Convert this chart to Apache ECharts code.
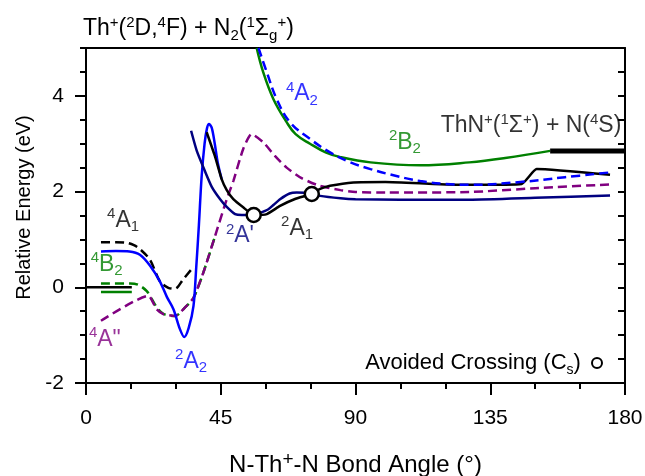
<!DOCTYPE html>
<html>
<head>
<meta charset="utf-8">
<script src="https://cdn.jsdelivr.net/npm/echarts@6/dist/echarts.min.js"></script>
<style>
  html, body { margin: 0; padding: 0; background: #fff; }
  #chart { width: 645px; height: 476px; }
</style>
</head>
<body>
<div id="chart"></div>
<script>
(function () {
    var FONT = 'Liberation Sans';

    // curves: [angle (deg), relative energy (eV)]
    var zeroLine = [[0, 0], [15.3, 0]];
    var b2Short = [[5, -0.1], [15.3, -0.1]];
    var a1Quartet = [[5, 0.94], [10, 0.94], [13.6, 0.93], [16, 0.88], [18, 0.8], [21.4, 0.57], [24.7, 0.12],
        [27.5, -0.01], [29.7, -0.03], [32.5, 0.17], [35.3, 0.38]];
    var a2Doublet = [[5, 0.75], [10, 0.76], [14.5, 0.75], [18, 0.68], [21.4, 0.45], [24.7, 0.12], [27, -0.2],
        [29.2, -0.46], [31.4, -0.88], [32.8, -1.04], [34.3, -0.85], [35.9, -0.39], [36.8, 0.4], [37.7, 1.3],
        [38.6, 2.3], [39.6, 3.0], [40.4, 3.32], [41.1, 3.41], [42, 3.33], [43, 3.0], [44, 2.6], [45.3, 2.26]];
    var b2Quartet = [[5, 0.08], [14.7, 0.08], [17.5, 0.05], [20.3, -0.08], [22, -0.25], [24, -0.45], [26, -0.56],
        [29.7, -0.6], [33.1, -0.42], [35.9, -0.22], [39.2, 0.31], [43.1, 1.07]];
    var aPrimeQuartet = [[5, -0.7], [20.8, -0.18], [23.6, -0.46], [25.8, -0.56], [29.7, -0.6], [33.1, -0.42],
        [35.9, -0.22], [39.2, 0.31], [43.1, 1.07], [47, 1.84], [49.2, 2.22], [52.5, 2.89], [55.3, 3.2],
        [59.2, 3.03], [63, 2.75], [67, 2.5], [72, 2.28], [78, 2.12], [85, 2.03], [90, 1.99], [100, 1.98],
        [128, 1.99], [150, 2.07], [175, 2.15]];
    var aPrimeDoublet = [[35.1, 3.27], [37, 2.85], [39.7, 2.43], [42, 2.1], [44.8, 1.84], [47, 1.68], [49.8, 1.53],
        [52, 1.51], [56, 1.51], [58, 1.55], [60.9, 1.63], [62.6, 1.72], [64.8, 1.84], [68, 1.96], [70.4, 1.98],
        [75.5, 1.96], [78.2, 1.91], [85, 1.86], [90, 1.84], [105, 1.83], [128, 1.83], [150, 1.87], [175, 1.92]];
    var a1Doublet = [[40.3, 3.24], [43, 2.75], [45.3, 2.26], [47, 2.03], [49.2, 1.84], [52.5, 1.67], [56.1, 1.51],
        [60.4, 1.53], [64.8, 1.7], [70, 1.85], [75.4, 1.95], [78, 2.05], [81.5, 2.12], [89.3, 2.19], [100, 2.2],
        [116, 2.16], [128, 2.14], [145.5, 2.16], [150.5, 2.47], [175, 2.35]];
    var a2Quartet = [[57.6, 5.0], [60.4, 4.49], [63.7, 3.93], [68.1, 3.45], [74.8, 3.1], [81.5, 2.82], [88, 2.62],
        [95, 2.47], [104, 2.32], [111.6, 2.22], [120, 2.16], [128, 2.14], [145, 2.2], [160, 2.3], [175, 2.4]];
    var b2Doublet = [[57, 5.0], [59.2, 4.49], [62.6, 3.93], [67, 3.45], [70, 3.2], [74.8, 3.0], [80, 2.82],
        [85, 2.72], [95, 2.61], [111.6, 2.55], [128, 2.61], [140, 2.7], [155, 2.85]];
    var asymptote = [[155, 2.85], [180, 2.85]];
    var crossings = [[56, 1.51], [75.4, 1.95]];

    // state labels
    var labelText = [
        '{sup|4}{n|A}{sub|2}',
        '{sup|2}{n|B}{sub|2}',
        '{n|ThN}{sup|+}{n|(}{sup|1}{n|Σ}{sup|+}{n|) + N(}{sup|4}{n|S)}',
        '{sup|4}{n|A}{sub|1}',
        '{sup|4}{n|B}{sub|2}',
        '{sup|4}{n|A"}',
        '{sup|2}{n|A}{sub|2}',
        "{sup|2}{n|A'}",
        '{sup|2}{n|A}{sub|1}'
    ];
    var labelX = [72.1, 106.5, 148.6, 12.4, 6.9, 6.3, 35.1, 51.4, 70.5];
    var labelY = [4.04, 3.03, 3.37, 1.4, 0.48, -1.09, -1.55, 1.07, 1.23];
    var labelColor = ['#0000ff', '#008000', '#000000', '#000000', '#008000', '#800080', '#0000ff', '#000080', '#000000'];

    var xLabels = [0, 45, 90, 135, 180];
    var yLabels = [-2, 0, 2, 4];

    var rich = {
        n: { fontSize: 23, lineHeight: 28, fontFamily: FONT },
        sup: { fontSize: 15, lineHeight: 15, verticalAlign: 'top', fontFamily: FONT },
        sub: { fontSize: 15, lineHeight: 15, verticalAlign: 'bottom', fontFamily: FONT }
    };

    var myChart = echarts.init(document.getElementById('chart'), null, { renderer: 'canvas' });

    function curve(data, color, dashed, width, smooth) {
        return {
            type: 'line',
            data: data,
            symbol: 'none',
            smooth: smooth || false,
            silent: true,
            lineStyle: { color: color, width: width || 2.5, type: dashed ? [9, 5] : 'solid' },
            z: 3
        };
    }

    var labelData = labelText.map(function (t, i) {
        return {
            value: [labelX[i], labelY[i]],
            label: { formatter: t, color: labelColor[i] }
        };
    });

    var blackLine = { show: true, onZero: false, lineStyle: { color: '#000', width: 2 } };

    var option = {
        animation: false,
        textStyle: { fontFamily: FONT },
        title: {
            text: '{n|Th}{sup|+}{n|(}{sup|2}{n|D,}{sup|4}{n|F) + N}{sub|2}{n|(}{sup|1}{n|Σ}{sub|g}{sup|+}{n|)}',
            left: 78,
            top: 10,
            textStyle: { color: '#000', fontWeight: 'normal', rich: rich }
        },
        legend: {
            right: 37,
            top: 347,
            align: 'right',
            icon: 'circle',
            itemWidth: 10,
            itemHeight: 10,
            data: ['Avoided Crossing'],
            formatter: function () {
                return '{l|Avoided Crossing (C}{ls|s}{l|) }';
            },
            textStyle: {
                color: '#000',
                rich: {
                    l: { fontSize: 22, lineHeight: 28, fontFamily: FONT },
                    ls: { fontSize: 14, lineHeight: 14, verticalAlign: 'bottom', fontFamily: FONT }
                }
            }
        },
        grid: { left: 86, right: 20, top: 48, bottom: 93, outerBoundsMode: 'none' },
        xAxis: [{
            type: 'value',
            min: 0,
            max: 180,
            interval: 45,
            position: 'bottom',
            name: '{t|N-Th}{ts|+}{t|-N Bond Angle (°)}',
            nameLocation: 'middle',
            nameGap: 67,
            nameTextStyle: {
                color: '#000',
                rich: {
                    t: { fontSize: 24, lineHeight: 30, fontFamily: FONT },
                    ts: { fontSize: 19, lineHeight: 19, verticalAlign: 'top', fontFamily: FONT }
                }
            },
            axisLine: blackLine,
            axisTick: { show: true, length: 12, lineStyle: { color: '#000', width: 2 } },
            minorTick: { show: true, splitNumber: 3, length: 6, lineStyle: { color: '#000', width: 2 } },
            splitLine: { show: false },
            axisLabel: {
                color: '#000', fontSize: 21, margin: 25,
                formatter: function (v) { return xLabels.indexOf(v) >= 0 ? String(v) : ''; }
            }
        }, {
            type: 'value',
            min: 0,
            max: 180,
            position: 'top',
            axisLine: blackLine,
            axisTick: { show: false },
            axisLabel: { show: false },
            splitLine: { show: false }
        }],
        yAxis: [{
            type: 'value',
            min: -2,
            max: 5,
            interval: 0.5,
            position: 'left',
            name: 'Relative Energy (eV)',
            nameLocation: 'middle',
            nameGap: 51,
            nameTextStyle: { color: '#000', fontSize: 20, fontFamily: FONT, padding: [0, 0, 0, 16] },
            axisLine: blackLine,
            axisTick: { show: true, length: 6, lineStyle: { color: '#000', width: 2 } },
            splitLine: { show: false },
            axisLabel: {
                color: '#000', fontSize: 21, margin: 22,
                formatter: function (v) { return yLabels.indexOf(v) >= 0 ? String(v) : ''; }
            }
        }, {
            type: 'value',
            min: -2,
            max: 5,
            position: 'left',
            axisLine: blackLine,
            axisTick: { show: true, length: 11, customValues: yLabels, lineStyle: { color: '#000', width: 2 } },
            axisLabel: { show: false },
            splitLine: { show: false }
        }, {
            type: 'value',
            min: -2,
            max: 5,
            interval: 0.5,
            position: 'right',
            axisLine: blackLine,
            axisTick: { show: true, inside: true, length: 7, lineStyle: { color: '#000', width: 2 } },
            axisLabel: { show: false },
            splitLine: { show: false }
        }],
        series: [
            curve(zeroLine, '#000000', false),
            curve(b2Short, '#008000', false),
            curve(a1Quartet, '#000000', true, 2.5, 0.3),
            curve(b2Quartet, '#008000', true, 2.5, 0.3),
            curve(aPrimeQuartet, '#800080', true, 2.5, 0.2),
            curve(a2Doublet, '#0000ff', false, 2.5, 0.3),
            curve(aPrimeDoublet, '#000080', false, 2.5, 0.2),
            curve(a1Doublet, '#000000', false, 2.5, 0.15),
            curve(b2Doublet, '#008000', false, 2.5, 0.4),
            curve(a2Quartet, '#0000ff', true, 2.5, 0.4),
            curve(asymptote, '#000000', false, 5),
            {
                name: 'Avoided Crossing',
                type: 'scatter',
                data: crossings,
                symbol: 'circle',
                symbolSize: 14,
                itemStyle: { color: '#ffffff', borderColor: '#000000', borderWidth: 2.5, opacity: 1 },
                z: 5
            },
            {
                name: 'labels',
                type: 'scatter',
                data: labelData,
                symbolSize: 0,
                silent: true,
                label: { show: true, position: 'inside', rich: rich },
                z: 6
            }
        ]
    };

    myChart.setOption(option);

    window.addEventListener('resize', function () {
        myChart.resize();
    });
})();
</script>
</body>
</html>
